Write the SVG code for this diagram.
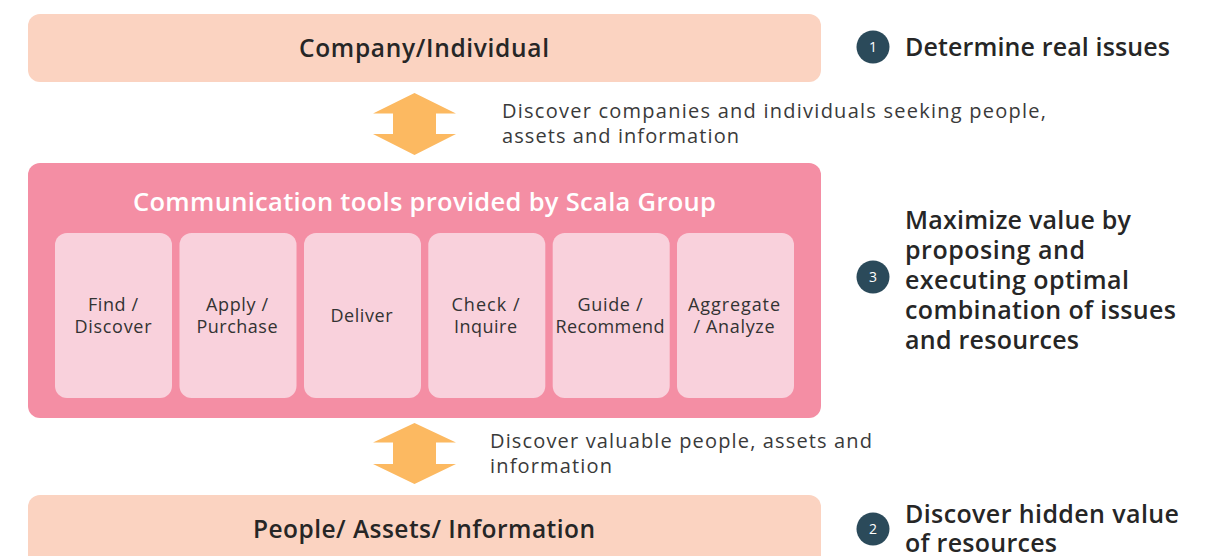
<svg xmlns="http://www.w3.org/2000/svg" width="1214" height="556" viewBox="0 0 1214 556">
<style>
  .peach{fill:#fbd3c1}
  .pink{fill:#f48ea4}
  .tile{fill:#f9d1dc}
  .arrow{fill:#fcb961}
  .head{font-family:"Open Sans","Noto Sans",sans-serif;font-weight:600;font-size:24.5px;fill:#262626;text-anchor:middle}
  .title{font-family:"Open Sans","Noto Sans",sans-serif;font-weight:600;font-size:25.5px;fill:#ffffff;text-anchor:middle}
  .tl{font-family:"Open Sans","Noto Sans",sans-serif;font-size:18px;fill:#333333;text-anchor:middle}
  .note{font-family:"Open Sans","Noto Sans",sans-serif;font-size:20px;fill:#3a3a3a}
  .step{font-family:"Open Sans","Noto Sans",sans-serif;font-weight:600;font-size:25px;fill:#262626}
  .num{fill:#2b4a5a}
  .numt{font-family:"Open Sans","Noto Sans",sans-serif;font-size:14px;fill:#ffffff;text-anchor:middle}
</style>
<rect width="1214" height="556" fill="#ffffff"/>

<g id="company">
  <rect class="peach" x="28" y="14" width="793" height="68" rx="12"/>
  <text class="head" x="424" y="57" textLength="250">Company/Individual</text>
</g>

<g id="tools">
  <rect class="pink" x="28" y="163" width="793" height="255" rx="12"/>
  <text class="title" x="424.5" y="211" textLength="583">Communication tools provided by Scala Group</text>
</g>
<g id="tool-find">
  <rect class="tile" x="55" y="233" width="117" height="165" rx="12"/>
  <text class="tl" x="113" y="311" textLength="50">Find /</text>
  <text class="tl" x="113" y="333" textLength="77">Discover</text>
</g>
<g id="tool-apply">
  <rect class="tile" x="179.5" y="233" width="117" height="165" rx="12"/>
  <text class="tl" x="237" y="311" textLength="62">Apply /</text>
  <text class="tl" x="237" y="333" textLength="81">Purchase</text>
</g>
<g id="tool-deliver">
  <rect class="tile" x="304" y="233" width="117" height="165" rx="12"/>
  <text class="tl" x="361.5" y="322" textLength="62">Deliver</text>
</g>
<g id="tool-check">
  <rect class="tile" x="428.3" y="233" width="117" height="165" rx="12"/>
  <text class="tl" x="485.5" y="311" textLength="68">Check /</text>
  <text class="tl" x="485.5" y="333" textLength="63">Inquire</text>
</g>
<g id="tool-guide">
  <rect class="tile" x="552.7" y="233" width="117" height="165" rx="12"/>
  <text class="tl" x="610" y="311" textLength="65">Guide /</text>
  <text class="tl" x="610" y="333" textLength="109">Recommend</text>
</g>
<g id="tool-aggregate">
  <rect class="tile" x="677" y="233" width="117" height="165" rx="12"/>
  <text class="tl" x="734" y="311" textLength="92">Aggregate</text>
  <text class="tl" x="734" y="333" textLength="81">/ Analyze</text>
</g>

<g id="resources">
  <rect class="peach" x="28" y="495" width="793" height="80" rx="12"/>
  <text class="head" x="424" y="538" textLength="342">People/ Assets/ Information</text>
</g>

<g id="connectors">
  <polygon class="arrow" points="414.5,93 456,113.5 436,113.5 436,134 456,134 414.5,155 373,134 393,134 393,113.5 373,113.5"/>
  <text class="note" x="502" y="118" textLength="544">Discover companies and individuals seeking people,</text>
  <text class="note" x="502" y="143" textLength="237">assets and information</text>
  <polygon class="arrow" points="414.5,423 456,442.5 436,442.5 436,464 456,464 414.5,484 373,464 393,464 393,442.5 373,442.5"/>
  <text class="note" x="490" y="448" textLength="382">Discover valuable people, assets and</text>
  <text class="note" x="490" y="473" textLength="122">information</text>
</g>

<g id="step1">
  <circle class="num" cx="873" cy="47" r="16.5"/>
  <text class="numt" x="873" y="52">1</text>
  <text class="step" x="905" y="56" textLength="265">Determine real issues</text>
</g>
<g id="step3">
  <circle class="num" cx="873" cy="277" r="16.5"/>
  <text class="numt" x="873" y="282">3</text>
  <text class="step" x="905" y="229" textLength="226">Maximize value by</text>
  <text class="step" x="905" y="259" textLength="180">proposing and</text>
  <text class="step" x="905" y="289" textLength="224">executing optimal</text>
  <text class="step" x="905" y="319" textLength="271">combination of issues</text>
  <text class="step" x="905" y="349" textLength="174">and resources</text>
</g>
<g id="step2">
  <circle class="num" cx="873" cy="529" r="16.5"/>
  <text class="numt" x="873" y="534">2</text>
  <text class="step" x="905" y="523" textLength="274">Discover hidden value</text>
  <text class="step" x="905" y="552" textLength="152">of resources</text>
</g>
</svg>
